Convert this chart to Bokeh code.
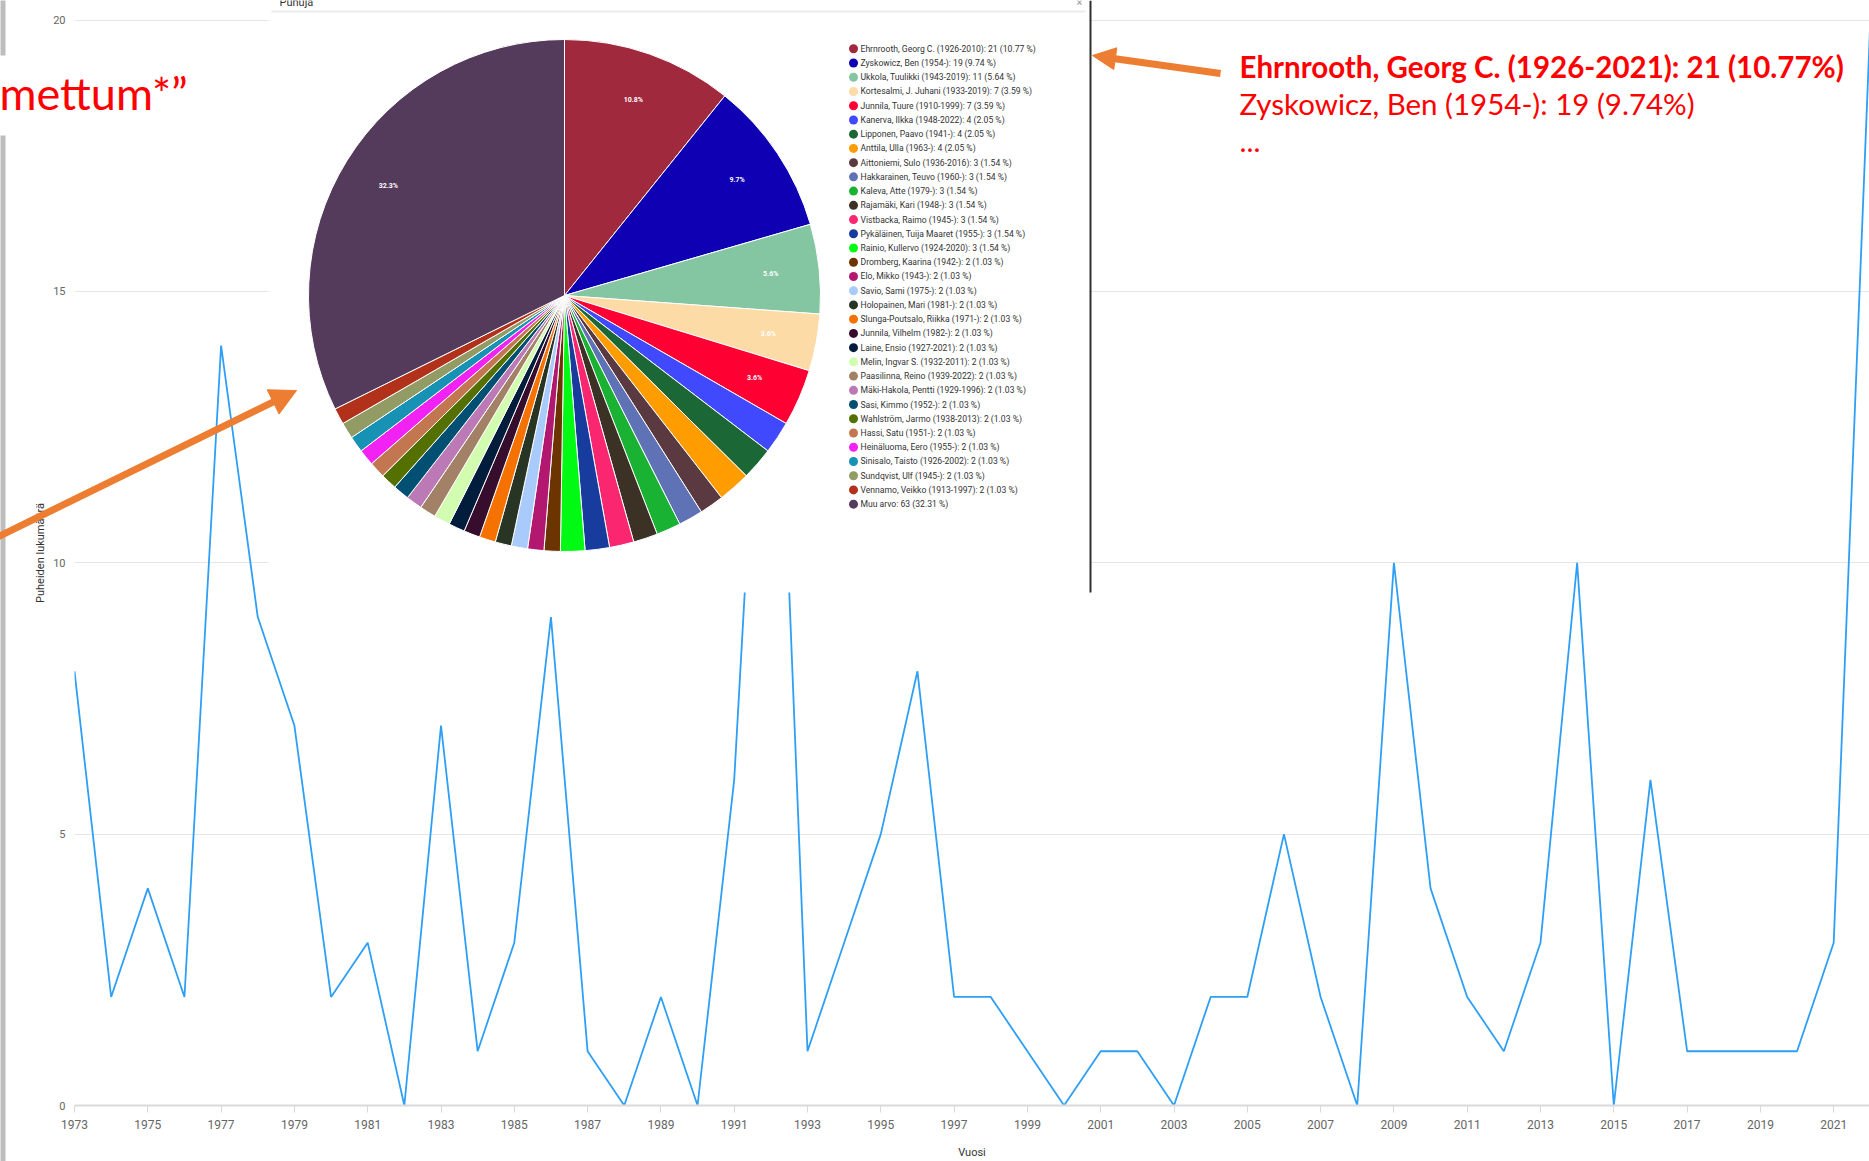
import math
from bokeh.plotting import figure
from bokeh.models import Range1d, FixedTicker, ColumnDataSource
from bokeh.core.properties import value
from bokeh.embed import file_html
from bokeh.resources import INLINE

# ---------------- data ----------------
years = list(range(1973, 2023))
speeches = [8, 2, 4, 2, 14, 9, 7, 2, 3, 0,
            7, 1, 3, 9, 1, 0, 2, 0, 6, 18,
            1, 3, 5, 8, 2, 2, 1, 0, 1, 1,
            0, 2, 2, 5, 2, 0, 10, 4, 2, 1,
            3, 10, 0, 6, 1, 1, 1, 1, 3, 20]
x_ticks = list(range(1973, 2022, 2))
y_ticks = [0, 5, 10, 15, 20]

speakers = [
    "Ehrnrooth, Georg C. (1926-2010)", "Zyskowicz, Ben (1954-)", "Ukkola, Tuulikki (1943-2019)",
    "Kortesalmi, J. Juhani (1933-2019)", "Junnila, Tuure (1910-1999)", "Kanerva, Ilkka (1948-2022)",
    "Lipponen, Paavo (1941-)", "Anttila, Ulla (1963-)", "Aittoniemi, Sulo (1936-2016)",
    "Hakkarainen, Teuvo (1960-)", "Kaleva, Atte (1979-)", "Rajamäki, Kari (1948-)",
    "Vistbacka, Raimo (1945-)", "Pykäläinen, Tuija Maaret (1955-)", "Rainio, Kullervo (1924-2020)",
    "Dromberg, Kaarina (1942-)", "Elo, Mikko (1943-)", "Savio, Sami (1975-)",
    "Holopainen, Mari (1981-)", "Slunga-Poutsalo, Riikka (1971-)", "Junnila, Vilhelm (1982-)",
    "Laine, Ensio (1927-2021)", "Melin, Ingvar S. (1932-2011)", "Paasilinna, Reino (1939-2022)",
    "Mäki-Hakola, Pentti (1929-1996)", "Sasi, Kimmo (1952-)", "Wahlström, Jarmo (1938-2013)",
    "Hassi, Satu (1951-)", "Heinäluoma, Eero (1955-)", "Sinisalo, Taisto (1926-2002)",
    "Sundqvist, Ulf (1945-)", "Vennamo, Veikko (1913-1997)", "Muu arvo",
]
speaker_counts = [21, 19, 11, 7, 7, 4, 4, 4, 3, 3, 3, 3, 3, 3, 3,
                  2, 2, 2, 2, 2, 2, 2, 2, 2, 2, 2, 2, 2, 2, 2, 2, 2, 63]
speaker_colors = [
    "#a1293d", "#0f00b4", "#84c5a2", "#fcdba6", "#ff0033", "#4149ff", "#1b6736", "#ff9c00",
    "#5a3a40", "#6072b6", "#1ab232", "#3b3125", "#fa2670", "#173c9e", "#00fa14", "#6b3400",
    "#b2186f", "#a8cbfb", "#283424", "#f57200", "#360d2d", "#021c3c", "#d2fdb0", "#a38166",
    "#bb7ab5", "#024f74", "#537000", "#c37750", "#f322f4", "#1791b4", "#939b65", "#b2311b",
    "#543a5b",
]
note_lines = ["Ehrnrooth, Georg C. (1926-2021): 21 (10.77%)",
              "Zyskowicz, Ben (1954-): 19 (9.74%)",
              "..."]
left_note = "mettum*\u201d"

# ---------------- layout constants (reference pixels) ----------------
W, H = 1869, 1161
FRAME_L = 74            # plot frame left
FRAME_B = 1105          # plot frame bottom (value 0)
PX_YEAR = 36.65
PX_UNIT = 54.275
ORANGE = "#ed7d31"
RED = "#ff0000"

p = figure(width=W, height=H, output_backend="svg", toolbar_location=None,
           x_range=Range1d(1973, 1973 + (W - FRAME_L) / PX_YEAR),
           y_range=Range1d(0, FRAME_B / PX_UNIT),
           min_border_left=FRAME_L, min_border_right=0, min_border_top=0,
           min_border_bottom=H - FRAME_B)
p.extra_x_ranges = {"px": Range1d(FRAME_L, W)}
p.extra_y_ranges = {"py": Range1d(-FRAME_B, 0)}
p.outline_line_color = None
p.background_fill_color = "white"
p.border_fill_color = "white"

# axes
p.xaxis.ticker = FixedTicker(ticks=x_ticks)
p.xaxis.major_label_text_font = "Roboto"
p.xaxis.major_label_text_font_size = "12px"
p.xaxis.major_label_text_color = "#666666"
p.xaxis.axis_line_color = "#d9d9d9"
p.xaxis.axis_line_width = 2
p.xaxis.major_tick_line_color = "#d9d9d9"
p.xaxis.major_tick_out = 7
p.xaxis.major_tick_in = 0
p.xaxis.minor_tick_line_color = None
p.xaxis.major_label_standoff = 7
p.xaxis.axis_label = "Vuosi"
p.xaxis.axis_label_text_font = "Roboto"
p.xaxis.axis_label_text_font_size = "11px"
p.xaxis.axis_label_text_font_style = "normal"
p.xaxis.axis_label_text_color = "#333333"
p.xaxis.axis_label_standoff = 14

p.yaxis.ticker = FixedTicker(ticks=y_ticks)
p.yaxis.axis_line_color = None
p.yaxis.major_tick_line_color = None
p.yaxis.minor_tick_line_color = None
p.yaxis.major_label_text_font = "Roboto"
p.yaxis.major_label_text_font_size = "11px"
p.yaxis.major_label_text_color = "#666666"
p.yaxis.major_label_standoff = 3
p.yaxis.axis_label = "Puheiden lukumäärä"
p.yaxis.axis_label_text_font = "Roboto"
p.yaxis.axis_label_text_font_size = "11px"
p.yaxis.axis_label_text_font_style = "normal"
p.yaxis.axis_label_text_color = "#333333"
p.yaxis.axis_label_standoff = 3

p.xgrid.grid_line_color = None
p.ygrid.ticker = FixedTicker(ticks=y_ticks)
p.ygrid.grid_line_color = "#e6e6e6"

# line series
p.line(years, speeches, line_color="#2f9ff5", line_width=1.8)

# ---------------- pie panel overlay ----------------
PR = dict(x_range_name="px", y_range_name="py")
PANEL_L, PANEL_R, PANEL_B = 268, 1090, 592
p.quad(left=[PANEL_L], right=[PANEL_R], top=[0], bottom=[-PANEL_B],
       fill_color="white", line_color=None, **PR)
p.segment(x0=[PANEL_R], y0=[0], x1=[PANEL_R], y1=[-PANEL_B], line_color="#2e2e2e", line_width=2, **PR)
p.segment(x0=[PANEL_L + 3], y0=[-11], x1=[PANEL_R - 5], y1=[-11], line_color="#ececec", line_width=2, **PR)
p.text(x=[PANEL_L + 11], y=[-2], text=["Puhuja"], text_color="#333333", text_font=value("Roboto"),
       text_font_size="11px", text_baseline="alphabetic", **PR)
p.text(x=[PANEL_R - 14], y=[-2], text=["\u00d7"], text_color="#999999", text_font=value("Roboto"),
       text_font_size="11px", text_baseline="alphabetic", **PR)

CX, CY, R = 564, 295, 256
total = sum(speaker_counts)
starts, ends, lx, ly, ltxt = [], [], [], [], []
cum = 0
for c in speaker_counts:
    a0 = math.pi / 2 - 2 * math.pi * cum / total
    cum += c
    a1 = math.pi / 2 - 2 * math.pi * cum / total
    starts.append(a1)
    ends.append(a0)
    pct = 100.0 * c / total
    if pct >= 3.5:
        am = (a0 + a1) / 2
        lx.append(CX + 0.81 * R * math.cos(am))
        ly.append(-CY + 0.81 * R * math.sin(am))
        ltxt.append(f"{pct:.1f}%")

pie_src = ColumnDataSource(dict(start=starts, end=ends, color=speaker_colors))
p.wedge(x=CX, y=-CY, radius=R, start_angle="start", end_angle="end", fill_color="color",
        line_color="white", line_width=1, source=pie_src, **PR)
p.text(x=lx, y=ly, text=ltxt, text_color="white", text_font=value("Roboto"),
       text_font_size="7px", text_font_style="bold", text_align="center",
       text_baseline="middle", **PR)

# legend
LEG_X, LEG_Y0, LEG_DY = 853, 48.3, 14.23
leg_y = [-(LEG_Y0 + i * LEG_DY) for i in range(len(speakers))]
leg_txt = [f"{n}: {c} ({100.0 * c / total:.2f} %)" for n, c in zip(speakers, speaker_counts)]
p.scatter(x=[LEG_X] * len(speakers), y=leg_y, marker="circle", size=9,
          fill_color=speaker_colors, line_color=None, **PR)
p.text(x=[LEG_X + 7] * len(speakers), y=leg_y, text=leg_txt, text_color="#333333",
       text_font=value("Roboto"), text_font_size="8.6px", text_baseline="middle", **PR)

# ---------------- annotations (overlay level, not clipped to the frame) ----------------
OV = dict(level="overlay", **PR)

# grey edge bar at the far left of the screenshot
p.quad(left=[0, 0], right=[5, 5], top=[0, -135], bottom=[-55, -H],
       fill_color="#bdbdbd", line_color=None, **OV)

p.text(x=[-1], y=[-92], text=[left_note], text_color=RED, text_font=value("Lato"),
       text_font_size="45px", text_baseline="alphabetic", **OV)
note_y = [-66, -103, -141]
for i, t in enumerate(note_lines):
    p.text(x=[1239], y=[note_y[i]], text=[t], text_color=RED, text_font=value("Lato"),
           text_font_size="29.5px", text_font_style="bold" if i == 0 else "normal",
           text_baseline="alphabetic", **OV)


def draw_arrow(x0, y0, x1, y1, width, head_len, head_w):
    dx, dy = x1 - x0, y1 - y0
    L = math.hypot(dx, dy)
    ux, uy = dx / L, dy / L
    nx, ny = -uy, ux
    bx, by = x1 - ux * head_len, y1 - uy * head_len
    p.segment(x0=[x0], y0=[y0], x1=[bx + ux * 2], y1=[by + uy * 2], line_color=ORANGE,
              line_width=width, line_cap="butt", **OV)
    p.patch(x=[x1, bx + nx * head_w / 2, bx - nx * head_w / 2],
            y=[y1, by + ny * head_w / 2, by - ny * head_w / 2],
            fill_color=ORANGE, line_color=ORANGE, line_width=1, **OV)


draw_arrow(-6, -538, 296, -390, 7, 26, 27)
draw_arrow(1220, -73, 1092, -55, 7, 23, 22)

open("out.html", "w").write(file_html(p, INLINE))
